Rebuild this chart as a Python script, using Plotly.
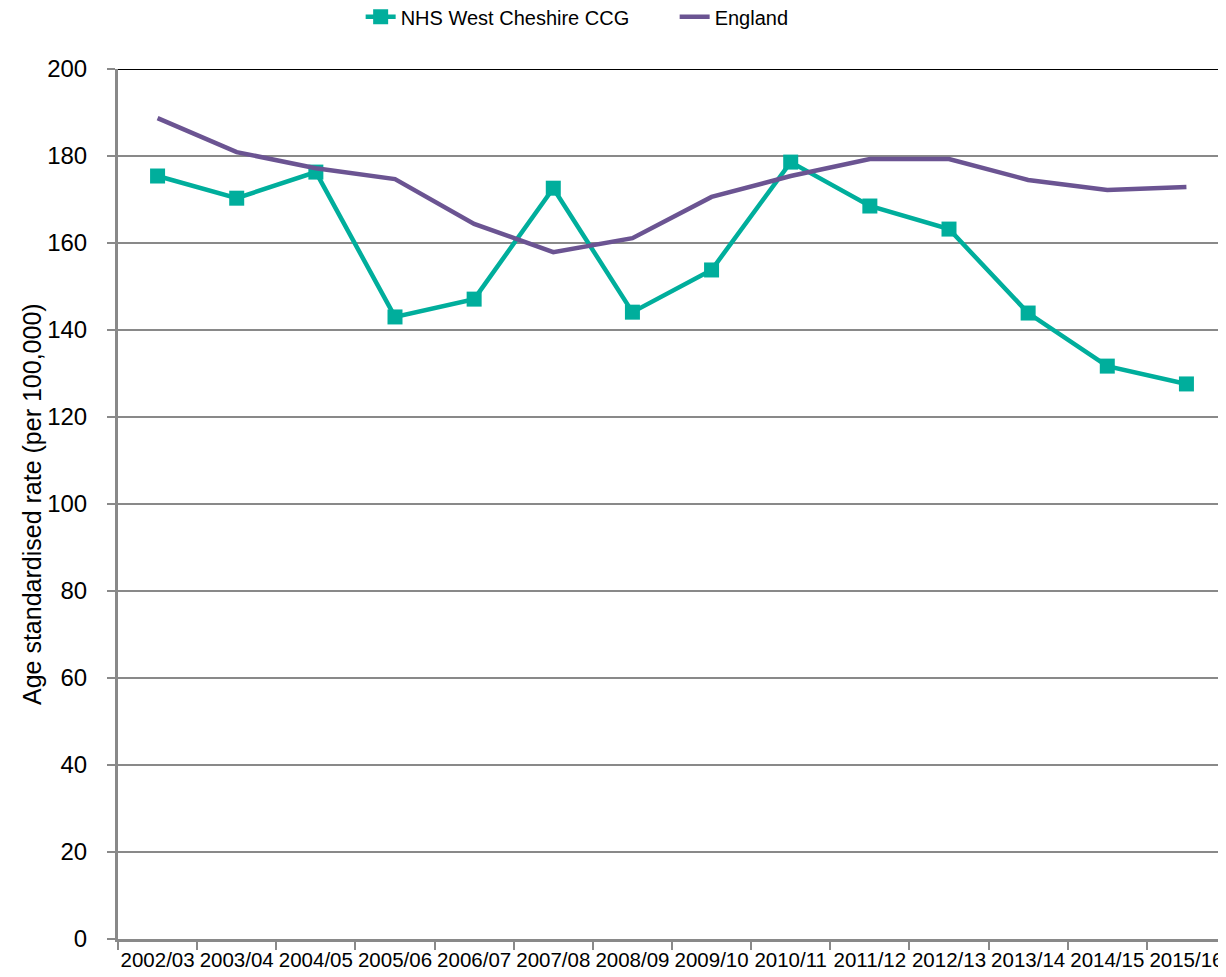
import plotly.graph_objects as go

years = ["2002/03", "2003/04", "2004/05", "2005/06", "2006/07", "2007/08", "2008/09",
         "2009/10", "2010/11", "2011/12", "2012/13", "2013/14", "2014/15", "2015/16"]
ccg = [175.4, 170.3, 176.3, 143.0, 147.1, 172.6, 144.1, 153.8, 178.6, 168.5, 163.2, 143.9, 131.7, 127.6]
england = [188.7, 180.9, 177.2, 174.7, 164.4, 157.9, 161.1, 170.6, 175.4, 179.3, 179.3, 174.5, 172.2, 172.9]
y_ticks = [0, 20, 40, 60, 80, 100, 120, 140, 160, 180, 200]

TEAL = "#00AE9C"
PURPLE = "#6B5492"
GRID = "#898989"
FONT = "Liberation Sans, Arial, sans-serif"

fig = go.Figure()
fig.add_trace(go.Scatter(x=years, y=ccg, name="NHS West Cheshire CCG", mode="lines+markers",
                         line=dict(color=TEAL, width=4.5),
                         marker=dict(symbol="square", size=15, color=TEAL)))
fig.add_trace(go.Scatter(x=years, y=england, name="England", mode="lines",
                         line=dict(color=PURPLE, width=4.5)))

fig.add_shape(type="line", xref="paper", yref="y", x0=0, x1=1, y0=200, y1=200,
              line=dict(color="black", width=2), layer="below")

fig.add_annotation(text="Age standardised rate (per 100,000)", xref="paper", yref="paper",
                   x=-0.0776, y=0.5, xanchor="center", yanchor="middle", textangle=-90,
                   showarrow=False, font=dict(family=FONT, size=25, color="black"))

fig.update_layout(
    width=1218, height=969,
    margin=dict(l=110, r=0, t=61, b=38, autoexpand=False),
    paper_bgcolor="white", plot_bgcolor="white",
    font=dict(family=FONT, color="black"),
    showlegend=True,
    legend=dict(orientation="h", x=0.219, xanchor="left", y=1.06, yanchor="middle",
                entrywidth=269, entrywidthmode="pixels",
                font=dict(family=FONT, size=20, color="black"),
                bgcolor="rgba(0,0,0,0)", traceorder="normal"),
    xaxis=dict(type="category", range=[-0.5, 13.5], tickson="boundaries",
               ticks="outside", ticklen=8, tickwidth=2, tickcolor=GRID,
               showline=True, linecolor=GRID, linewidth=3, showgrid=False,
               tickangle=0, automargin=False,
               tickfont=dict(family=FONT, size=20.5, color="black"),
               fixedrange=True),
    yaxis=dict(range=[0, 200], tickvals=y_ticks, ticks="outside", ticklen=8, tickwidth=2,
               tickcolor=GRID, showline=True, linecolor=GRID, linewidth=3,
               showgrid=True, gridcolor=GRID, gridwidth=2, zeroline=False,
               ticklabelstandoff=15, automargin=False,
               tickfont=dict(family=FONT, size=24, color="black")),
)

fig.write_html("out.html")
